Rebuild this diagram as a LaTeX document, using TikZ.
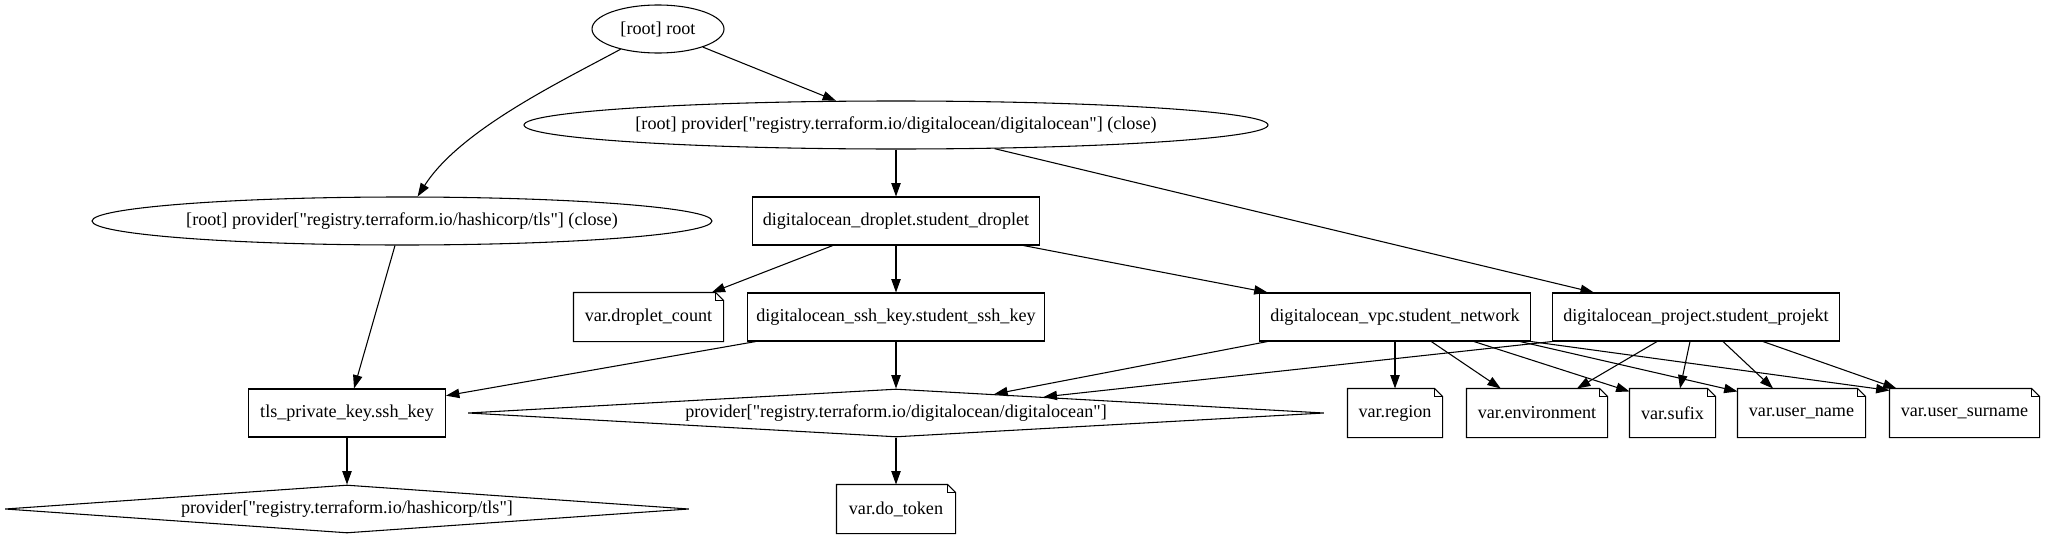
\documentclass[tikz,border=0pt]{standalone}
\usepackage{fontspec}
\setmainfont{Liberation Serif}[Ligatures=TeXOff]
\usetikzlibrary{shapes.geometric,arrows.meta,calc}
\begin{document}
\begin{tikzpicture}[x=0.75pt,y=-0.75pt,line width=0.8pt,
  every node/.style={font=\fontsize{13.6}{16}\selectfont},
  boxn/.style={draw, rectangle, minimum height=36pt, inner sep=0pt},
  noten/.style={rectangle, minimum height=36pt, inner sep=0pt},
  elln/.style={draw, ellipse, minimum height=36pt, inner sep=0pt},
  diam/.style={draw, diamond, minimum height=36pt, inner sep=0pt},
  conn/.style={-{Triangle[length=10pt,width=7pt]}},
]
\useasboundingbox (0,0) rectangle (2045,539);
% row 1-3
\node[elln, minimum width=99pt] (root) at (658,29) {[root] root};
\node[elln, minimum width=558pt] (doc) at (896,125) {[root] provider["registry.terraform.io/digitalocean/digitalocean"] (close)};
\node[elln, minimum width=465pt] (tlsc) at (402,221) {[root] provider["registry.terraform.io/hashicorp/tls"] (close)};
\node[boxn, minimum width=215.25pt] (droplet) at (896,221) {digitalocean\_droplet.student\_droplet};
% row 4
\node[noten, minimum width=111.75pt] (dcount) at (648.5,317) {var.droplet\_count};
\node[boxn, minimum width=222.75pt] (ssh) at (896,317) {digitalocean\_ssh\_key.student\_ssh\_key};
\node[boxn, minimum width=203.25pt] (vpc) at (1395,317) {digitalocean\_vpc.student\_network};
\node[boxn, minimum width=215.25pt] (project) at (1696,317) {digitalocean\_project.student\_projekt};
% row 5
\node[boxn, minimum width=147.75pt] (tlspk) at (347,413) {tls\_private\_key.ssh\_key};
\node[diam, minimum width=642pt, aspect=17.8] (dodia) at (896,413) {provider["registry.terraform.io/digitalocean/digitalocean"]};
\node[noten, minimum width=70.5pt] (region) at (1395,413) {var.region};
\node[noten, minimum width=105pt] (env) at (1537,413) {var.environment};
\node[noten, minimum width=63.75pt] (sufix) at (1672.5,413) {var.sufix};
\node[noten, minimum width=95.25pt] (uname) at (1801.5,413) {var.user\_name};
\node[noten, minimum width=111.75pt] (usurname) at (1964.5,413) {var.user\_surname};
% row 6
\node[diam, minimum width=513pt, aspect=14.25] (tlsdia) at (347,509) {provider["registry.terraform.io/hashicorp/tls"]};
\node[noten, minimum width=88.5pt] (dotoken) at (896,509) {var.do\_token};
% note outlines
\foreach \n in {dcount,region,env,sufix,uname,usurname,dotoken} {
  \draw (\n.north west) -- ($(\n.north east)+(-8,0)$) -- ($(\n.north east)+(0,8)$) -- (\n.south east) -- (\n.south west) -- cycle;
  \draw ($(\n.north east)+(-8,0)$) -- ($(\n.north east)+(-8,8)$) -- ($(\n.north east)+(0,8)$);
}
% connectors
\draw[conn] (root) -- (doc);
\draw[conn] (root) .. controls (560,82) and (460,130) .. (tlsc);
\draw[conn] (doc) -- (droplet);
\draw[conn] (doc) -- (project);
\draw[conn] (tlsc) -- (tlspk);
\draw[conn] (droplet) -- (dcount);
\draw[conn] (droplet) -- (ssh);
\draw[conn] (droplet) -- (vpc);
\draw[conn] (ssh) -- (tlspk);
\draw[conn] (ssh) -- (dodia);
\draw[conn] (vpc) -- (dodia);
\draw[conn] (project.south west) -- (dodia);
\draw[conn] (vpc) -- (region);
\draw[conn] (vpc) -- (env);
\draw[conn] ($(vpc.south west)+(215,0)$) -- ($(sufix.north west)+(0,3)$);
\draw[conn] ($(vpc.south east)+(-11,0)$) -- ($(uname.north west)+(0,3)$);
\draw[conn] (vpc.south east) -- ($(usurname.north west)+(0,2)$);
\draw[conn] ($(project.south)+(-39,0)$) -- ($(env.north)+(40,0)$);
\draw[conn] ($(project.south)+(-6,0)$) -- ($(sufix.north)+(7.5,0)$);
\draw[conn] ($(project.south)+(27,0)$) -- ($(uname.north)+(-28.5,0)$);
\draw[conn] ($(project.south)+(67,0)$) -- ($(usurname.north west)+(7,0)$);
\draw[conn] (tlspk) -- (tlsdia);
\draw[conn] (dodia) -- (dotoken);
\end{tikzpicture}
\end{document}
